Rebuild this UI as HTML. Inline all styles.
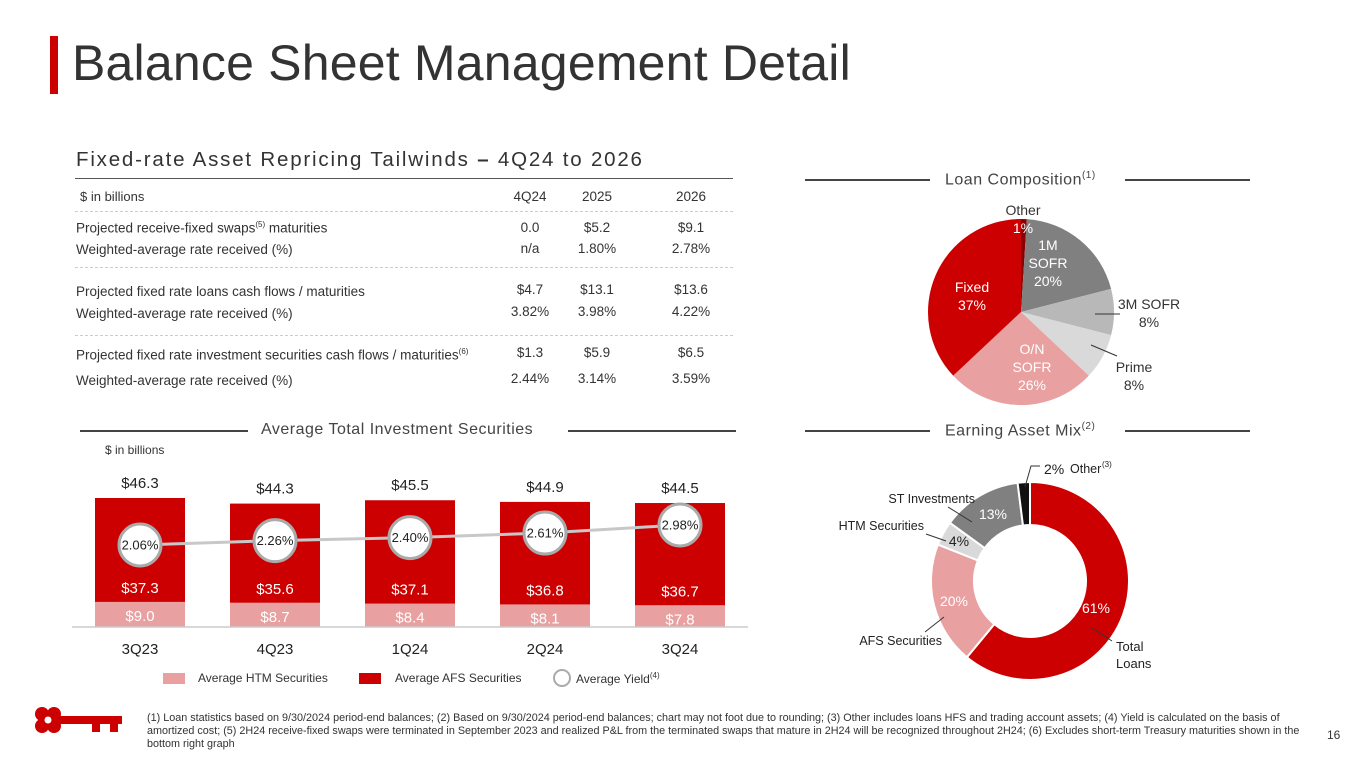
<!DOCTYPE html>
<html><head><meta charset="utf-8"><style>
body{margin:0;width:1365px;height:768px;background:#fff;font-family:"Liberation Sans",sans-serif;position:relative;overflow:hidden;color:#222}
.a{position:absolute;white-space:nowrap}
.t{font-size:13.5px;color:#333}
.c{text-align:center;width:60px}
.dash{position:absolute;left:75px;width:658px;border-top:1px dashed #ccc}
</style></head><body>
<div class="a" style="left:50px;top:36px;width:8px;height:58px;background:#cc0000"></div>
<div class="a" style="left:72px;top:34px;font-size:50px;color:#333;letter-spacing:0.2px">Balance Sheet Management Detail</div>

<div class="a" style="left:76px;top:148px;font-size:20.5px;color:#333;letter-spacing:1.8px">Fixed-rate Asset Repricing Tailwinds <b>–</b> 4Q24 to 2026</div>
<div class="a" style="left:75px;top:178px;width:658px;border-top:1px solid #555"></div>
<div>
<div class="a t" style="left:80px;top:189px;font-size:13px">$ in billions</div>
<div class="a t c" style="left:500px;top:189px">4Q24</div><div class="a t c" style="left:567px;top:189px">2025</div><div class="a t c" style="left:661px;top:189px">2026</div>
<div class="dash" style="top:211px"></div>
<div class="a t" style="left:76px;top:220px">Projected receive-fixed swaps<sup style="font-size:8px">(5)</sup> maturities</div>
<div class="a t c" style="left:500px;top:220px">0.0</div><div class="a t c" style="left:567px;top:220px">$5.2</div><div class="a t c" style="left:661px;top:220px">$9.1</div>
<div class="a t" style="left:76px;top:242px">Weighted-average rate received (%)</div>
<div class="a t c" style="left:500px;top:241px">n/a</div><div class="a t c" style="left:567px;top:241px">1.80%</div><div class="a t c" style="left:661px;top:241px">2.78%</div>
<div class="dash" style="top:267px"></div>
<div class="a t" style="left:76px;top:284px">Projected fixed rate loans cash flows / maturities</div>
<div class="a t c" style="left:500px;top:282px">$4.7</div><div class="a t c" style="left:567px;top:282px">$13.1</div><div class="a t c" style="left:661px;top:282px">$13.6</div>
<div class="a t" style="left:76px;top:306px">Weighted-average rate received (%)</div>
<div class="a t c" style="left:500px;top:304px">3.82%</div><div class="a t c" style="left:567px;top:304px">3.98%</div><div class="a t c" style="left:661px;top:304px">4.22%</div>
<div class="dash" style="top:335px"></div>
<div class="a t" style="left:76px;top:347px">Projected fixed rate investment securities cash flows / maturities<sup style="font-size:8px">(6)</sup></div>
<div class="a t c" style="left:500px;top:345px">$1.3</div><div class="a t c" style="left:567px;top:345px">$5.9</div><div class="a t c" style="left:661px;top:345px">$6.5</div>
<div class="a t" style="left:76px;top:373px">Weighted-average rate received (%)</div>
<div class="a t c" style="left:500px;top:371px">2.44%</div><div class="a t c" style="left:567px;top:371px">3.14%</div><div class="a t c" style="left:661px;top:371px">3.59%</div>
</div>

<div class="a" style="left:80px;top:430px;width:168px;border-top:2px solid #444"></div>
<div class="a" style="left:261px;top:421px;font-size:16px;color:#444;letter-spacing:0.5px">Average Total Investment Securities</div>
<div class="a" style="left:568px;top:430px;width:168px;border-top:2px solid #444"></div>
<div class="a" style="left:805px;top:179px;width:125px;border-top:2px solid #444"></div>
<div class="a" style="left:945px;top:170px;font-size:16px;color:#444;letter-spacing:0.5px">Loan Composition<sup style="font-size:10px">(1)</sup></div>
<div class="a" style="left:1125px;top:179px;width:125px;border-top:2px solid #444"></div>
<div class="a" style="left:805px;top:430px;width:125px;border-top:2px solid #444"></div>
<div class="a" style="left:945px;top:421px;font-size:16px;color:#444;letter-spacing:0.5px">Earning Asset Mix<sup style="font-size:10px">(2)</sup></div>
<div class="a" style="left:1125px;top:430px;width:125px;border-top:2px solid #444"></div>

<div class="a" style="left:105px;top:443px;font-size:12px;color:#333">$ in billions</div>
<svg class="a" style="left:0;top:0" width="1365" height="768" id="svg"></svg>

<div class="a" style="left:163px;top:673px;width:22px;height:11px;background:#e8a0a0"></div>
<div class="a" style="left:198px;top:671px;font-size:12px;color:#333">Average HTM Securities</div>
<div class="a" style="left:359px;top:673px;width:22px;height:11px;background:#cc0000"></div>
<div class="a" style="left:395px;top:671px;font-size:12px;color:#333">Average AFS Securities</div>
<div class="a" style="left:553px;top:669px;width:14px;height:14px;border:2px solid #aaa;border-radius:50%"></div>
<div class="a" style="left:576px;top:671px;font-size:12px;color:#333">Average Yield<sup style="font-size:8px">(4)</sup></div>

<svg class="a" style="left:30px;top:702px" width="96" height="34">
<circle cx="12" cy="12" r="7" fill="#cc0000"/><circle cx="24" cy="12" r="7" fill="#cc0000"/><circle cx="12" cy="24" r="7" fill="#cc0000"/><circle cx="24" cy="24" r="7" fill="#cc0000"/>
<circle cx="18" cy="18" r="3.5" fill="#fff"/>
<rect x="28" y="14" width="64" height="8" fill="#cc0000"/><rect x="62" y="20" width="8" height="10" fill="#cc0000"/><rect x="80" y="20" width="8" height="10" fill="#cc0000"/>
</svg>
<div class="a" style="left:147px;top:712px;width:1160px;white-space:normal;font-size:10.8px;line-height:13px;color:#333">(1) Loan statistics based on 9/30/2024 period-end balances; (2) Based on 9/30/2024 period-end balances; chart may not foot due to rounding; (3) Other includes loans HFS and trading account assets; (4) Yield is calculated on the basis of amortized cost; (5) 2H24 receive-fixed swaps were terminated in September 2023 and realized P&amp;L from the terminated swaps that mature in 2H24 will be recognized throughout 2H24; (6) Excludes short-term Treasury maturities shown in the bottom right graph</div>
<div class="a" style="left:1327px;top:728px;font-size:12px;color:#333">16</div>

<script>
const categories=["3Q23","4Q23","1Q24","2Q24","3Q24"];
const htmValues=[9.0,8.7,8.4,8.1,7.8];
const afsValues=[37.3,35.6,37.1,36.8,36.7];
const totalValues=[46.3,44.3,45.5,44.9,44.5];
const yieldValues=[2.06,2.26,2.40,2.61,2.98];
const loanLabels=["Other","1M SOFR","3M SOFR","Prime","O/N SOFR","Fixed"];
const loanValues=[1,20,8,8,26,37];
const mixLabels=["Total Loans","AFS Securities","HTM Securities","ST Investments","Other"];
const mixValues=[61,20,4,13,2];

const NS="http://www.w3.org/2000/svg";
const svg=document.getElementById('svg');
function mk(tag,attrs,parent){const e=document.createElementNS(NS,tag);for(const k in attrs)e.setAttribute(k,attrs[k]);(parent||svg).appendChild(e);return e;}
function txt(x,y,s,size,fill,anchor){const t=mk('text',{x:x,y:y,'font-size':size,fill:fill,'text-anchor':anchor||'middle','font-family':'Liberation Sans, sans-serif'});t.textContent=s;return t;}

const base=627, scale=2.786;
const xC=i=>140+i*135;
const yV=v=>base-v*scale;
const yY=v=>545-(v-2.06)*(20/0.92);
categories.forEach((c,i)=>{
  const h=mk('rect',{x:xC(i)-45,y:yV(htmValues[i]),width:90,height:htmValues[i]*scale,fill:'#e8a0a0'});
  
  
  const a=mk('rect',{x:xC(i)-45,y:yV(htmValues[i]+afsValues[i]),width:90,height:afsValues[i]*scale,fill:'#cc0000'});
  
  
  txt(xC(i),yV(htmValues[i])+19,'$'+htmValues[i].toFixed(1),15,'#fff');
  txt(xC(i),yV(htmValues[i])-9,'$'+afsValues[i].toFixed(1),15,'#fff');
  txt(xC(i),yV(htmValues[i]+afsValues[i])-10,'$'+totalValues[i].toFixed(1),15,'#222');
  const l=txt(xC(i),654,c,15,'#222');
  
  
});
mk('line',{x1:72,y1:base,x2:748,y2:base,stroke:'#ccc','stroke-width':1.5});
let pts=categories.map((c,i)=>xC(i)+','+yY(yieldValues[i])).join(' ');
mk('polyline',{points:pts,fill:'none',stroke:'#c8c8c8','stroke-width':3});
categories.forEach((c,i)=>{
  const ci=mk('circle',{cx:xC(i),cy:yY(yieldValues[i]),r:21,fill:'#fff',stroke:'#aaa','stroke-width':3});
  
  
  txt(xC(i),yY(yieldValues[i])+4.5,yieldValues[i].toFixed(2)+'%',13,'#222');
});

function arcPath(cx,cy,r0,r1,a0,a1){
  const p=(r,a)=>[cx+r*Math.sin(a),cy-r*Math.cos(a)];
  const large=(a1-a0)>Math.PI?1:0;
  const [x0,y0]=p(r1,a0),[x1,y1]=p(r1,a1);
  if(r0===0) return `M${cx},${cy}L${x0},${y0}A${r1},${r1} 0 ${large} 1 ${x1},${y1}Z`;
  const [x2,y2]=p(r0,a1),[x3,y3]=p(r0,a0);
  return `M${x0},${y0}A${r1},${r1} 0 ${large} 1 ${x1},${y1}L${x2},${y2}A${r0},${r0} 0 ${large} 0 ${x3},${y3}Z`;
}
const loanColors=['#8b0000','#808080','#b8b8b8','#d9d9d9','#e8a0a0','#cc0000'];
const lt=loanValues.reduce((a,b)=>a+b,0);
let acc=0;
const pcx=1021,pcy=312,pr=93;
loanValues.forEach((v,i)=>{
  const a0=acc/lt*2*Math.PI;acc+=v;const a1=acc/lt*2*Math.PI;
  const p=mk('path',{d:arcPath(pcx,pcy,0,pr,a0,a1),fill:loanColors[i]});
  
  
});
txt(1023,215,'Other',14,'#333');txt(1023,233,loanValues[0]+'%',14,'#fff');
txt(1048,250,'1M',14,'#fff');txt(1048,268,'SOFR',14,'#fff');txt(1048,286,loanValues[1]+'%',14,'#fff');
txt(1149,309,'3M SOFR',14,'#333');txt(1149,327,loanValues[2]+'%',14,'#333');
mk('line',{x1:1095,y1:314,x2:1120,y2:314,stroke:'#333'});
txt(1134,372,'Prime',14,'#333');txt(1134,390,loanValues[3]+'%',14,'#333');
mk('line',{x1:1091,y1:345,x2:1117,y2:356,stroke:'#333'});
txt(1032,354,'O/N',14,'#fff');txt(1032,372,'SOFR',14,'#fff');txt(1032,390,loanValues[4]+'%',14,'#fff');
txt(972,292,'Fixed',14,'#fff');txt(972,310,loanValues[5]+'%',14,'#fff');

const mixColors=['#cc0000','#e8a0a0','#d9d9d9','#808080','#111'];
const mt=mixValues.reduce((a,b)=>a+b,0);
acc=0;
mixValues.forEach((v,i)=>{
  const a0=acc/mt*2*Math.PI;acc+=v;const a1=acc/mt*2*Math.PI;
  const p=mk('path',{d:arcPath(1030,581,56,99,a0,a1),fill:mixColors[i],stroke:'#fff','stroke-width':2});
  
  
});
txt(1096,613,mixValues[0]+'%',14,'#fff');
txt(1116,651,'Total',13,'#222','start');txt(1116,668,'Loans',13,'#222','start');
mk('line',{x1:1092,y1:628,x2:1112,y2:641,stroke:'#333'});
txt(954,606,mixValues[1]+'%',14,'#fff');
txt(942,645,'AFS Securities',12.5,'#222','end');
mk('line',{x1:925,y1:632,x2:944,y2:617,stroke:'#333'});
txt(959,546,mixValues[2]+'%',14,'#222');
txt(924,530,'HTM Securities',12.5,'#222','end');
mk('line',{x1:926,y1:534,x2:946,y2:541,stroke:'#333'});
txt(993,519,mixValues[3]+'%',14,'#fff');
txt(975,503,'ST Investments',12.5,'#222','end');
mk('line',{x1:948,y1:507,x2:972,y2:522,stroke:'#333'});
txt(1044,474,mixValues[4]+'%',14,'#222','start');
txt(1070,473,'Other',12.5,'#222','start');
txt(1102,467,'(3)',8,'#222','start');
mk('polyline',{points:'1025,487 1031,466 1040,466',fill:'none',stroke:'#333'});
</script>
</body></html>
